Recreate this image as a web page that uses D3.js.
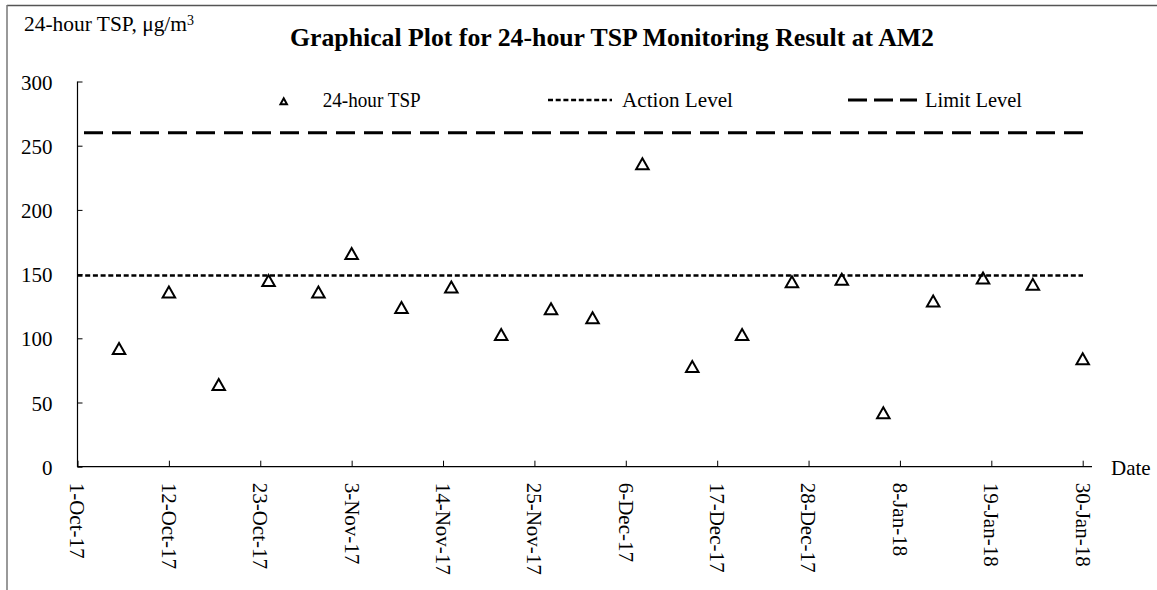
<!DOCTYPE html>
<html><head><meta charset="utf-8">
<script src="https://cdn.jsdelivr.net/npm/d3@7"></script>
<style>
html,body{margin:0;padding:0;background:#fff;}
svg{display:block;}
text{font-family:"Liberation Serif","Times New Roman",serif;fill:#000;}
</style></head>
<body><svg id="c" width="1157" height="590"></svg>
<script>
const dates = ["2017-10-06","2017-10-12","2017-10-18","2017-10-24","2017-10-30","2017-11-03","2017-11-09","2017-11-15","2017-11-21","2017-11-27","2017-12-02","2017-12-08","2017-12-14","2017-12-20","2017-12-26","2018-01-01","2018-01-06","2018-01-12","2018-01-18","2018-01-24","2018-01-30"];
const tsp = [92,136,64,145,136,166,124,140,103,123,116,236,78,103,144,146,42,129,147,142,84];
const actionLevel = 149;
const limitLevel = 260;
const xTickLabels = ["1-Oct-17","12-Oct-17","23-Oct-17","3-Nov-17","14-Nov-17","25-Nov-17","6-Dec-17","17-Dec-17","28-Dec-17","8-Jan-18","19-Jan-18","30-Jan-18"];
const yTicks = [0,50,100,150,200,250,300];

const parse = d3.timeParse("%Y-%m-%d");
const fmt = d3.timeFormat("%-d-%b-%y");
const svg = d3.select("#c");

// frame
svg.append("line").attr("x1",7).attr("x2",1157).attr("y1",5.5).attr("y2",5.5).attr("stroke","#555").attr("stroke-width",1.5);
svg.append("line").attr("x1",7).attr("x2",7).attr("y1",5).attr("y2",590).attr("stroke","#777").attr("stroke-width",1.5);

const x = d3.scaleTime().domain([parse("2017-10-01"), parse("2018-01-30")]).range([77.5, 1082.7]);
const y = d3.scaleLinear().domain([0,300]).range([466.7, 81.5]);

const xTickDates = xTickLabels.map(s => d3.timeParse("%-d-%b-%y")(s));

// axes
const gx = svg.append("g").attr("transform","translate(0,466.7)")
  .call(d3.axisBottom(x).tickValues(xTickDates).tickSizeInner(-6).tickSizeOuter(0).tickFormat(fmt));
gx.select(".domain").remove();
gx.selectAll(".tick line").attr("stroke","#000").attr("stroke-width",1);
gx.selectAll(".tick text").attr("transform","rotate(90)").attr("x",16).attr("y",0).attr("dy","0.36em")
  .attr("text-anchor","start").style("font-size","21px").style("font-family","Liberation Serif");
svg.append("line").attr("x1",77).attr("x2",1092).attr("y1",466.7).attr("y2",466.7).attr("stroke","#000").attr("stroke-width",1.2);

const gy = svg.append("g").attr("transform","translate(77.5,0)")
  .call(d3.axisLeft(y).tickValues(yTicks).tickSizeInner(-5).tickSizeOuter(0).tickPadding(25));
gy.select(".domain").remove();
gy.selectAll(".tick line").attr("stroke","#000");
gy.selectAll(".tick text").attr("dy","0.36em").style("font-size","21px").style("font-family","Liberation Serif");
svg.append("line").attr("x1",77.5).attr("x2",77.5).attr("y1",81.5).attr("y2",467).attr("stroke","#000").attr("stroke-width",1.2);

// reference lines
svg.append("line").attr("x1",84).attr("x2",1083).attr("y1",y(limitLevel)).attr("y2",y(limitLevel))
  .attr("stroke","#000").attr("stroke-width",3).attr("stroke-dasharray","19,9");
svg.append("line").attr("x1",77.5).attr("x2",1083).attr("y1",y(actionLevel)).attr("y2",y(actionLevel))
  .attr("stroke","#000").attr("stroke-width",2.5).attr("stroke-dasharray","5,2.7");

// markers
const tri = (w,h) => `M0,${-h/2}L${w/2},${h/2}L${-w/2},${h/2}Z`;
svg.append("g").selectAll("path").data(dates.map((d,i)=>({d:parse(d),v:tsp[i]}))).join("path")
  .attr("d", tri(12.5,11))
  .attr("transform", p => `translate(${x(p.d)},${y(p.v)})`)
  .attr("fill","none").attr("stroke","#000").attr("stroke-width",2);

// title
svg.append("text").attr("x",612).attr("y",46).attr("text-anchor","middle")
  .style("font-size","25px").style("font-weight","bold")
  .attr("textLength",644).attr("lengthAdjust","spacingAndGlyphs")
  .text("Graphical Plot for 24-hour TSP Monitoring Result at AM2");

// y title
const yt = svg.append("text").attr("x",24).attr("y",31).style("font-size","21.5px");
yt.append("tspan").attr("textLength",163).attr("lengthAdjust","spacingAndGlyphs").text("24-hour TSP, μg/m");
yt.append("tspan").attr("dy",-6).style("font-size","14px").text("3");

// x title
svg.append("text").attr("x",1111).attr("y",475).style("font-size","21px").text("Date");

// legend
svg.append("path").attr("d",tri(6.5,6)).attr("transform","translate(283.7,101.3)")
  .attr("fill","none").attr("stroke","#000").attr("stroke-width",2);
svg.append("text").attr("x",322.7).attr("y",107).style("font-size","21px")
  .attr("textLength",98).attr("lengthAdjust","spacingAndGlyphs").text("24-hour TSP");
svg.append("line").attr("x1",548).attr("x2",612).attr("y1",100).attr("y2",100)
  .attr("stroke","#000").attr("stroke-width",2.5).attr("stroke-dasharray","5,2.7");
svg.append("text").attr("x",622).attr("y",107).style("font-size","21px")
  .attr("textLength",111).attr("lengthAdjust","spacingAndGlyphs").text("Action Level");
svg.append("line").attr("x1",848).attr("x2",917).attr("y1",100).attr("y2",100)
  .attr("stroke","#000").attr("stroke-width",3).attr("stroke-dasharray","19,7");
svg.append("text").attr("x",925).attr("y",107).style("font-size","21px")
  .attr("textLength",97).attr("lengthAdjust","spacingAndGlyphs").text("Limit Level");
</script></body></html>
